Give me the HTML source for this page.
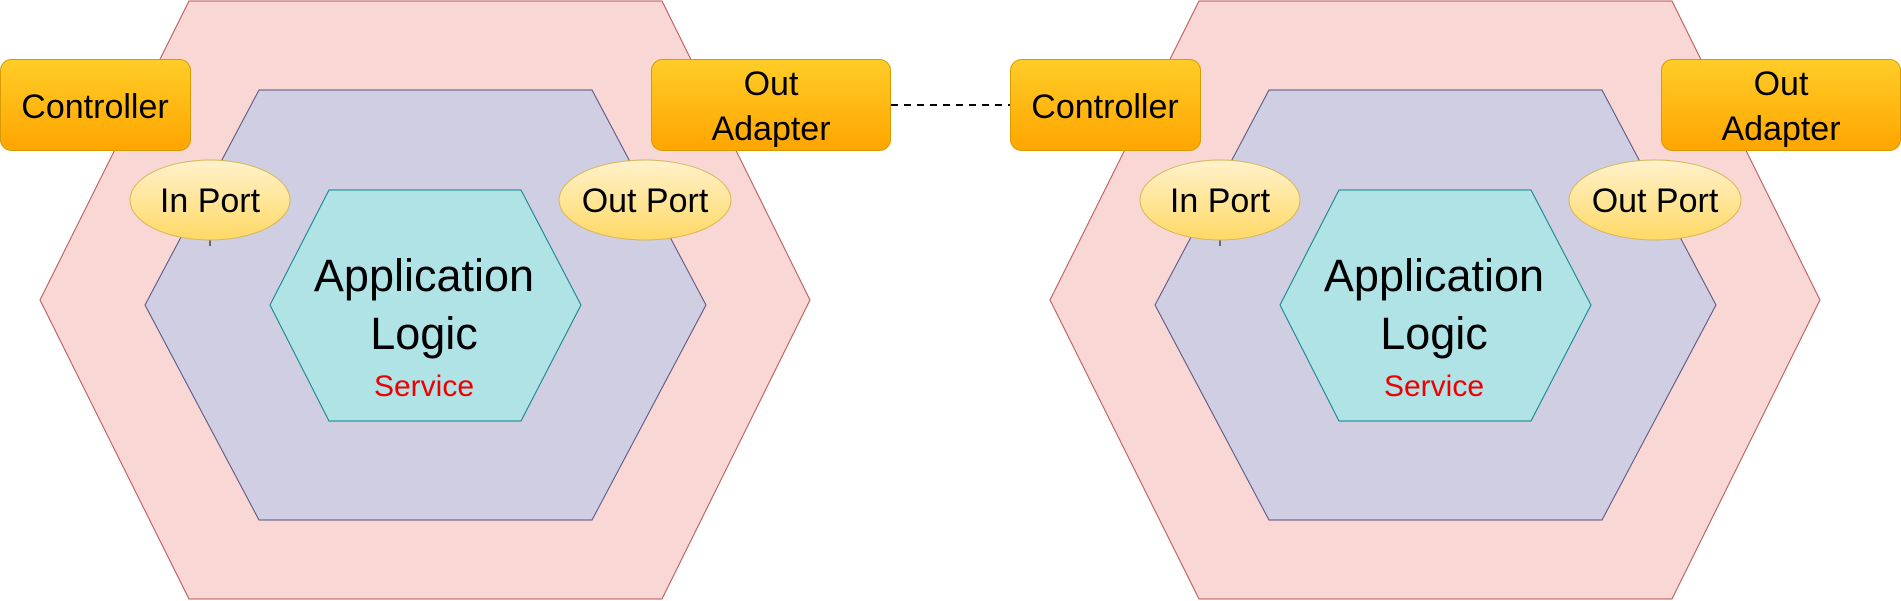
<!DOCTYPE html>
<html><head><meta charset="utf-8"><style>html,body{margin:0;padding:0;background:#fff}svg{display:block}</style></head><body>
<svg width="1901" height="601" viewBox="0 0 1901 601" xmlns="http://www.w3.org/2000/svg" font-family="Liberation Sans, sans-serif">
<defs>
<linearGradient id="gb" x1="0" y1="0" x2="0" y2="1"><stop offset="0" stop-color="#ffcd28"/><stop offset="1" stop-color="#ffa500"/></linearGradient>
<linearGradient id="ge" x1="0" y1="0" x2="0" y2="1"><stop offset="0" stop-color="#fff2cc"/><stop offset="1" stop-color="#ffd966"/></linearGradient>
<g id="hex">
<polygon points="189,1 662,1 810,300 662,599 189,599 40,300" fill="#f8d7d5" stroke="#b85450" stroke-width="1"/>
<polygon points="259,90 592,90 706,305 592,520 259,520 145,305" fill="#d0cee2" stroke="#56517e" stroke-width="1"/>
<polygon points="329,190 521,190 581,305 521,421 329,421 270,305" fill="#b0e3e6" stroke="#0e8088" stroke-width="1"/>
<text x="424" y="291" font-size="45" text-anchor="middle">Application</text>
<text x="424" y="349" font-size="45" text-anchor="middle">Logic</text>
<text x="424" y="396" font-size="30" text-anchor="middle" fill="#ee0000">Service</text>
<rect x="0.5" y="59.5" width="190" height="91" rx="11" fill="url(#gb)" stroke="#d79b00"/>
<text x="95" y="118" font-size="34" text-anchor="middle">Controller</text>
<rect x="651.5" y="59.5" width="239" height="91" rx="11" fill="url(#gb)" stroke="#d79b00"/>
<text x="771" y="95" font-size="34" text-anchor="middle">Out</text>
<text x="771" y="140" font-size="34" text-anchor="middle">Adapter</text>
<line x1="210" y1="240" x2="210" y2="246" stroke="#000" stroke-width="1"/>
<ellipse cx="210" cy="200" rx="80" ry="40" fill="url(#ge)" stroke="#d6b656"/>
<text x="210" y="212" font-size="34" text-anchor="middle">In Port</text>
<ellipse cx="645" cy="200" rx="86" ry="40" fill="url(#ge)" stroke="#d6b656"/>
<text x="645" y="212" font-size="34" text-anchor="middle">Out Port</text>
</g>
</defs>
<use href="#hex"/>
<use href="#hex" x="1010"/>
<line x1="891" y1="105" x2="1010" y2="105" stroke="#000" stroke-width="2" stroke-dasharray="7,6"/>
</svg>
</body></html>
